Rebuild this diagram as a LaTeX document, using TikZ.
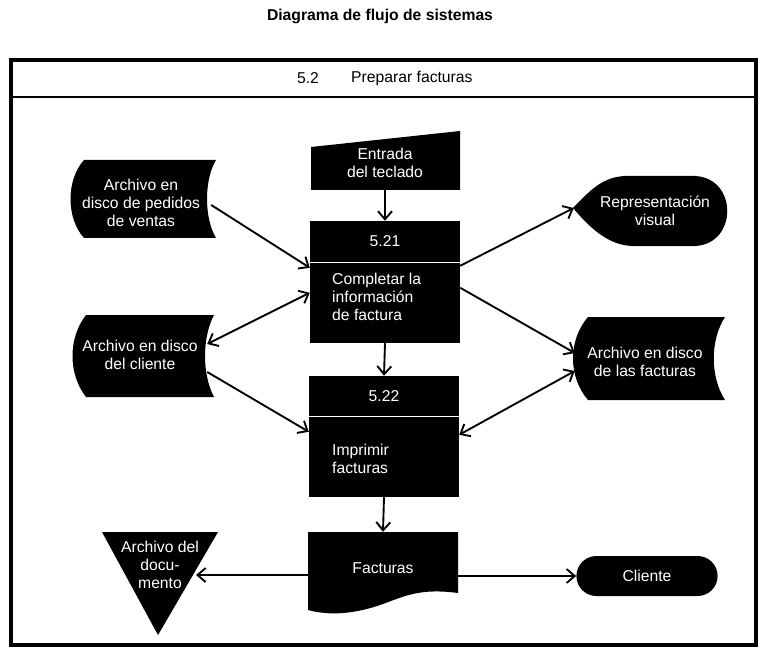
\documentclass[tikz,border=0pt]{standalone}
\usepackage{fontspec}
\setmainfont{Liberation Sans}
\usetikzlibrary{positioning, calc, arrows.meta, shapes.misc}
\newcommand{\diagfont}{\fontsize{13.4}{15.6}\selectfont}

\begin{document}
\begin{tikzpicture}[x=0.03cm, y=-0.03cm,
    every node/.style={font=\diagfont},
    lbl/.style={text=white, align=center, inner sep=0pt},
    procbox/.style={fill=black, text=white, inner sep=0pt, minimum width=4.5cm},
    flow/.style={line width=1.6pt, -{Straight Barb[length=7pt, width=12pt]}},
    flowboth/.style={line width=1.6pt, {Straight Barb[length=7pt, width=12pt]}-{Straight Barb[length=7pt, width=12pt]}}]
      \useasboundingbox (0,0) rectangle (759,651);
      %% Title and frame
      \node[font=\bfseries\diagfont] (title) at (380,16) {Diagrama de flujo de sistemas};
      \draw[line width=2.7pt] (11,60) rectangle (756,645);
      \draw[line width=1.8pt] (11,97) -- (756,97);
      \node (secnum) at (308,78) {5.2};
      \node[anchor=west, inner sep=0pt] (secname) at (351,78) {Preparar facturas};
      %% Keyboard input
      \fill (311,147) -- (460,131) -- (460,190) -- (311,190) -- cycle;
      \node[lbl, minimum height=1.62cm] (entrada) at (385,163) {Entrada\\del teclado};
      %% Process 5.21
      \node[procbox, minimum height=1.23cm] (h21) at (385,241.5) {5.21};
      \node[procbox, minimum height=2.4cm] (p21) at (385,303) {};
      \node[lbl, anchor=west, align=left] (t21) at (332,297) {Completar la\\información\\de factura};
      %% Process 5.22
      \node[procbox, minimum height=1.2cm] (h22) at (384,396) {5.22};
      \node[procbox, minimum height=2.4cm] (p22) at (384,457) {};
      \node[lbl, anchor=west, align=left] (t22) at (332,459) {Imprimir\\facturas};
      %% Sales orders disk
      \fill (84,160) -- (216,160) .. controls (204,180) and (204,218) .. (216,238)
            -- (84,238) .. controls (66,218) and (66,180) .. (84,160) -- cycle;
      \node[lbl, minimum width=4.38cm] (pedidos) at (141,203) {Archivo en\\disco de pedidos\\de ventas};
      %% Customer disk
      \fill (86,315) -- (214,315) .. controls (202,338) and (202,374) .. (214,397)
            -- (86,397) .. controls (68,374) and (68,338) .. (86,315) -- cycle;
      \node[lbl, minimum width=4.38cm] (cliented) at (140,355) {Archivo en disco\\del cliente};
      %% Visual display
      \fill (573,208) .. controls (592,188) and (604,177) .. (625,176) -- (695,176)
            .. controls (738,178) and (738,244) .. (695,246) -- (632,246)
            .. controls (608,245) and (590,228) .. (573,208) -- cycle;
      \node[lbl, minimum width=4.92cm] (display) at (655,211) {Representación\\visual};
      %% Invoices disk
      \fill (588,317) -- (725,317) .. controls (710,340) and (710,377) .. (725,400)
            -- (588,400) .. controls (568,377) and (568,340) .. (588,317) -- cycle;
      \node[lbl, minimum width=4.5cm] (factd) at (645,362) {Archivo en disco\\de las facturas};
      %% Printed invoices
      \fill (308,532) -- (458,532) -- (458,593) .. controls (420,588) and (405,596) .. (383,604)
            .. controls (355,614) and (330,616) .. (308,610) -- cycle;
      \node[lbl, minimum width=4.5cm, minimum height=2.16cm] (factdoc) at (383,568) {Facturas};
      %% Document file
      \fill (102,532) -- (218,532) -- (158,635) -- cycle;
      \node[lbl] (archdoc) at (160,565) {Archivo del\\docu-\\mento};
      %% Customer
      \node[rounded rectangle, fill=black, text=white, minimum width=4.47cm, minimum height=1.2cm]
            (cliente) at (647,576) {Cliente};
      %% Flows
      \draw[flow] (entrada.south) -- (h21.north);
      \draw[flow] (p21.south) -- (h22.north);
      \draw[flow] (p22.south) -- (factdoc.north);
      \draw[flow] ($(pedidos.east)+(-3,2)$) -- ($(p21.north west)+(0,5)$);
      \draw[flowboth] ($(cliented.east)+(-6,-11)$) -- ($(p21.north west)+(0,30)$);
      \draw[flow] ($(cliented.east)+(-6,17)$) -- ($(p22.north west)+(0,15)$);
      \draw[flow] ($(p21.north east)+(0,3)$) -- ($(display.west)+(1,-3)$);
      \draw[flow] ($(p21.north east)+(0,25)$) -- ($(factd.west)+(5,-9)$);
      \draw[flowboth] ($(factd.west)+(5,9)$) -- ($(p22.north east)+(0,18)$);
      \draw[flow] ($(factdoc.west)+(0,7)$) -- ($(archdoc.center)+(36,10)$);
      \draw[flow] ($(factdoc.east)+(0,8)$) -- (cliente.west);
    \end{tikzpicture}
\end{document}
